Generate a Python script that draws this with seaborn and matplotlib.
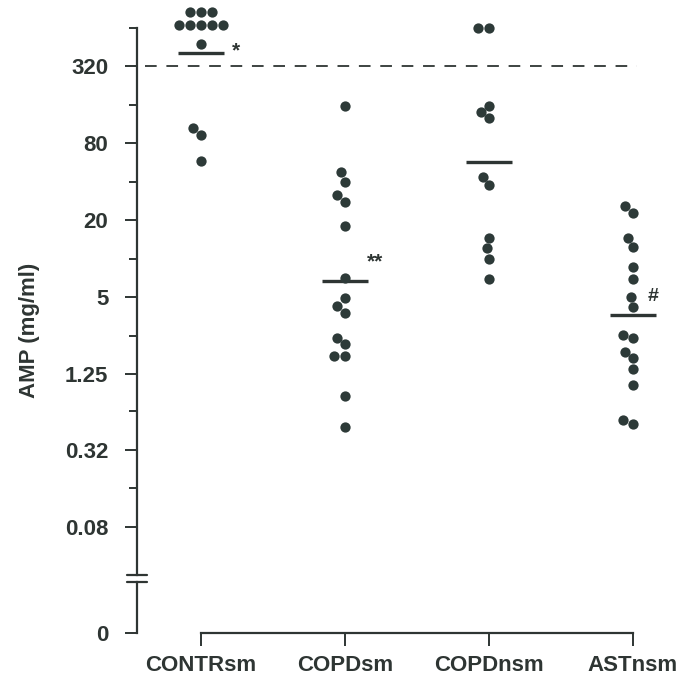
import numpy as np
import pandas as pd
import matplotlib
matplotlib.use("Agg")
import matplotlib.pyplot as plt
import seaborn as sns

# ---------------- data ----------------
categories = ["CONTRsm", "COPDsm", "COPDnsm", "ASTnsm"]
contr_sm = [842, 842, 842, 669, 669, 669, 669, 669, 475, 105, 92.5, 57.5]
copd_sm = [156, 47.1, 39.8, 31.4, 27.8, 17.9, 7.0, 4.9, 4.26, 3.78, 2.41, 2.14,
           1.74, 1.74, 0.847, 0.478]
copd_nsm = [631, 631, 156, 140, 124.7, 43.6, 37.6, 14.4, 12.0, 10.0, 6.87]
ast_nsm = [25.7, 22.6, 14.4, 12.2, 8.53, 6.94, 5.04, 4.20, 2.52, 2.41, 1.87,
           1.66, 1.36, 1.03, 0.545, 0.505]
major_ticks = [0.08, 0.32, 1.25, 5, 20, 80, 320]
major_labels = ["0.08", "0.32", "1.25", "5", "20", "80", "320"]
minor_ticks = [0.16, 0.64, 2.5, 10, 40, 160, 640]
threshold = 320
signif = {"CONTRsm": "*", "COPDsm": "**", "ASTnsm": "#"}

groups = [contr_sm, copd_sm, copd_nsm, ast_nsm]
df = pd.DataFrame({
    "group": np.repeat(categories, [len(g) for g in groups]),
    "amp": np.concatenate(groups),
})
gm = (df.groupby("group", sort=False)["amp"]
        .apply(lambda v: float(np.exp(np.log(v).mean())))
        .reindex(categories).reset_index())

# ---------------- style ----------------
sns.set_theme(style="ticks")
plt.rcParams["font.family"] = ["Liberation Sans", "DejaVu Sans"]
plt.rcParams["font.weight"] = "bold"
plt.rcParams["lines.scale_dashes"] = False
ink = "#2e3533"
dot = "#2d3a38"
fs = 16

W, H = 678, 684
fig = plt.figure(figsize=(W / 100, H / 100), dpi=100)

ax_l, ax_r = 137, 670
top_bottom_px, top_top_px = 575, 0
bot_top_px, bot_bottom_px = 582, 633
ref_px, per_doubling = 66, 38.5

ax_top = fig.add_axes([ax_l / W, 1 - top_bottom_px / H,
                       (ax_r - ax_l) / W, (top_bottom_px - top_top_px) / H])
ax_bot = fig.add_axes([ax_l / W, 1 - bot_bottom_px / H,
                       (ax_r - ax_l) / W, (bot_bottom_px - bot_top_px) / H])

ax_top.set_yscale("log", base=2)
y_lo = threshold * 2 ** ((ref_px - top_bottom_px) / per_doubling)
y_hi = threshold * 2 ** ((ref_px - top_top_px) / per_doubling)
ax_top.set_ylim(y_lo, y_hi)

x_lo = 0 - (201 - ax_l) / 144
x_hi = 3 + (ax_r - 633) / 144

sns.swarmplot(data=df, x="group", y="amp", order=categories, color=dot,
              size=7.4, linewidth=0, ax=ax_top, clip_on=False)
sns.pointplot(data=gm, x="group", y="amp", order=categories, color=ink,
              marker="_", markersize=33, markeredgewidth=2.4,
              linestyle="none", errorbar=None, ax=ax_top)

ax_top.set_xlim(x_lo, x_hi)
ax_top.set_ylim(y_lo, y_hi)

# threshold dashed line
ax_top.axhline(threshold, xmin=(145 - ax_l) / (ax_r - ax_l),
               xmax=(637 - ax_l) / (ax_r - ax_l), color=ink, lw=1.3,
               dashes=(8.4, 7.0))

# significance marks
offsets = {"CONTRsm": (25.5, 1.5), "COPDsm": (21.5, 13.5), "ASTnsm": (14.5, 13.0)}
sizes = {"CONTRsm": 15, "COPDsm": 15, "ASTnsm": 14}
for i, cat in enumerate(categories):
    if cat in signif:
        val = gm.loc[gm["group"] == cat, "amp"].iloc[0]
        ax_top.annotate(signif[cat], xy=(i, val), xytext=offsets[cat],
                        textcoords="offset points", ha="center", va="center",
                        fontsize=sizes[cat], fontweight="bold", color=ink)

# top axis styling
for s in ["top", "right", "bottom"]:
    ax_top.spines[s].set_visible(False)
ax_top.spines["left"].set_bounds(y_lo, minor_ticks[-1])
ax_top.spines["left"].set_color(ink)
ax_top.spines["left"].set_linewidth(1.6)
ax_top.set_yticks(major_ticks)
ax_top.set_yticklabels(major_labels)
ax_top.set_yticks(minor_ticks, minor=True)
ax_top.yaxis.set_minor_formatter(matplotlib.ticker.NullFormatter())
ax_top.tick_params(axis="y", which="major", length=8.6, width=1.4, pad=12,
                   colors=ink, labelsize=fs)
ax_top.tick_params(axis="y", which="minor", length=6, width=1.4, colors=ink)
ax_top.tick_params(axis="x", which="both", bottom=False, labelbottom=False)
ax_top.set_xlabel("")
ax_top.set_ylabel("")
ax_top.patch.set_alpha(0)

# bottom (zero) axis
ax_bot.set_xlim(x_lo, x_hi)
ax_bot.set_ylim(0, 1)
for s in ["top", "right"]:
    ax_bot.spines[s].set_visible(False)
ax_bot.spines["bottom"].set_bounds(0, 3)
for s in ["bottom", "left"]:
    ax_bot.spines[s].set_color(ink)
    ax_bot.spines[s].set_linewidth(1.6)
ax_bot.set_yticks([0])
ax_bot.set_yticklabels(["0"])
ax_bot.set_xticks(range(len(categories)))
ax_bot.set_xticklabels(categories)
ax_bot.tick_params(axis="y", length=8.6, width=1.4, pad=12, colors=ink, labelsize=fs)
ax_bot.tick_params(axis="x", length=9, width=1.4, pad=6.5, colors=ink, labelsize=fs)
ax_bot.patch.set_alpha(0)

# axis break marks
hw = 10 / (ax_r - ax_l)
ax_top.plot([-hw, hw], [0, 0], transform=ax_top.transAxes, color=ink,
            lw=1.6, clip_on=False)
ax_bot.plot([-hw, hw], [1, 1], transform=ax_bot.transAxes, color=ink,
            lw=1.6, clip_on=False)

fig.text(30 / W, 1 - 330 / H, "AMP (mg/ml)", rotation=90, ha="center",
         va="center", fontsize=fs, fontweight="bold", color=ink)

fig.savefig("out.png", dpi=100)
